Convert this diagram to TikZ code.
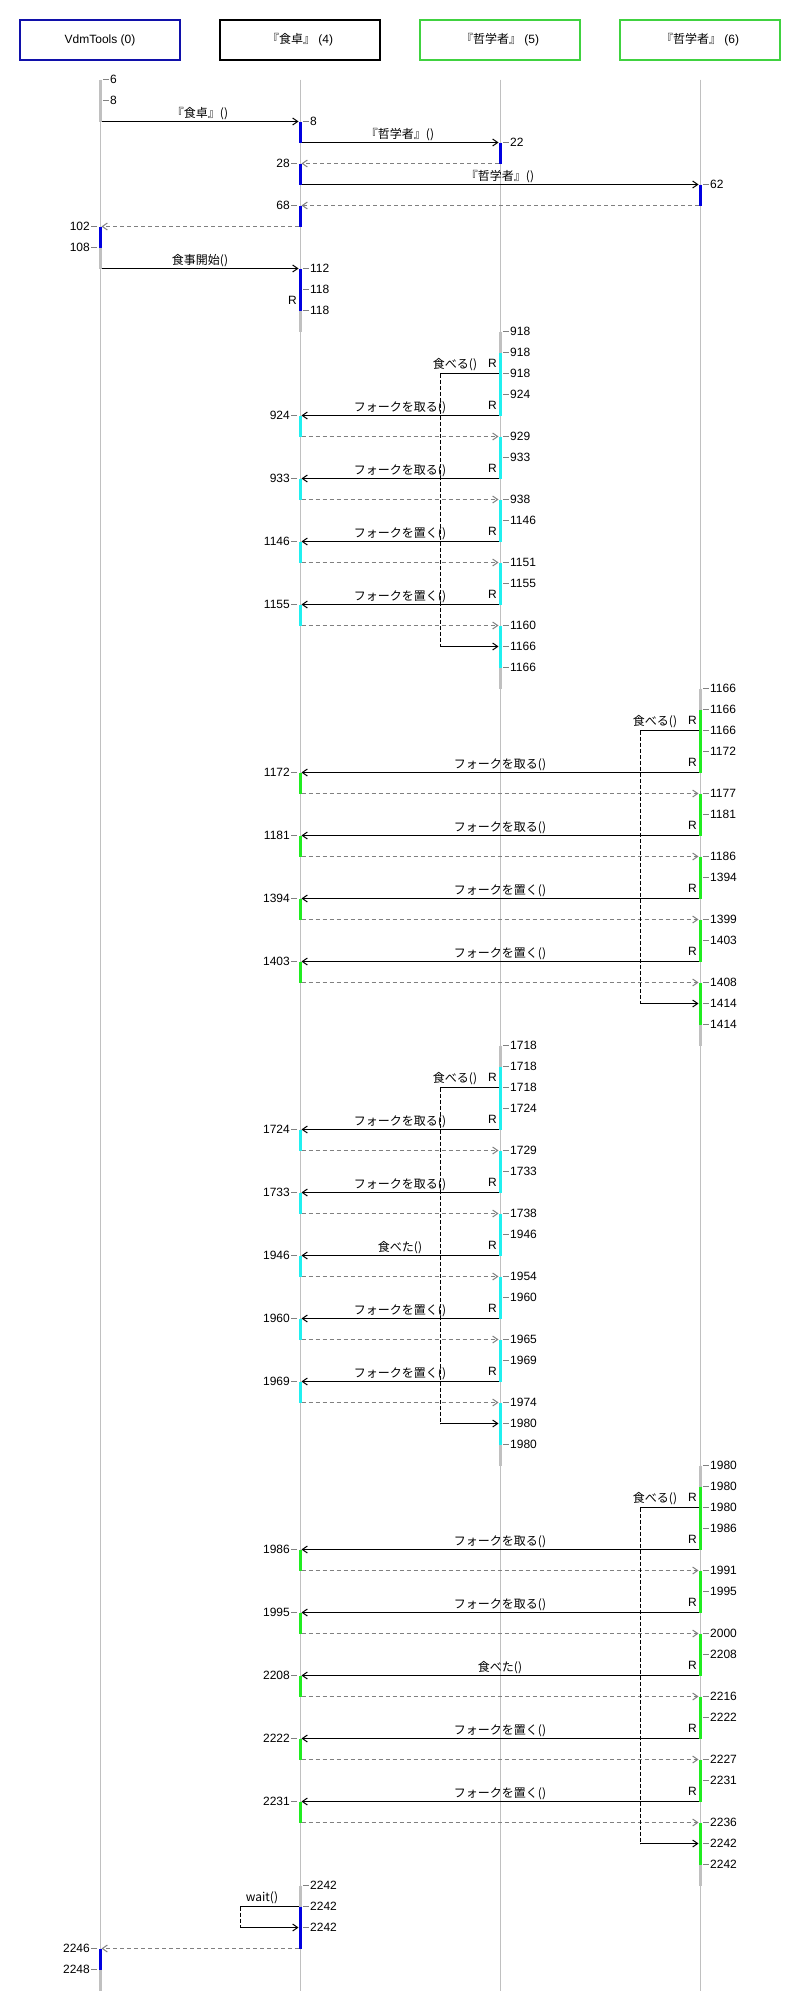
\documentclass[tikz,border=0pt]{standalone}
\usepackage{fontspec}
\setmainfont{Liberation Sans}
\newfontfamily\jp{Noto Sans CJK JP}
\usetikzlibrary{arrows.meta, calc}
\definecolor{vdmblue}{RGB}{16,16,170}
\definecolor{barblue}{RGB}{0,0,224}
\definecolor{objgreen}{RGB}{64,210,64}
\definecolor{bargreen}{RGB}{32,236,32}
\definecolor{barcyan}{RGB}{32,240,240}
\definecolor{lifegray}{RGB}{192,192,192}
\definecolor{retgray}{RGB}{128,128,128}

\begin{document}
\begin{tikzpicture}[x=1pt, y=-1pt, font=\fontsize{12}{14}\selectfont,
        declare function={ry(\r)=79.5+21*\r;}]
    \tikzstyle{objbox} = [rectangle, draw, line width=2pt, fill=white, minimum width=160pt, minimum height=40pt, inner sep=0pt]
    \tikzstyle{life} = [draw=lifegray, line width=1pt]
    \tikzstyle{bar} = [line width=3pt]
    \tikzstyle{call} = [draw=black, line width=1pt, -{Straight Barb[length=5pt,width=7pt]}, shorten >=1.5pt, shorten <=1.5pt]
    \tikzstyle{back} = [draw=black, line width=1pt, -{Straight Barb[length=5pt,width=7pt]}, shorten >=1.5pt]
    \tikzstyle{ret} = [draw=retgray, line width=1pt, dash pattern=on 4pt off 3pt, -{Straight Barb[length=5pt,width=7pt]}, shorten >=1.5pt, shorten <=1.5pt]
    \tikzstyle{selfline} = [draw=black, line width=1pt, shorten <=1.5pt]
    \tikzstyle{selfdash} = [draw=black, line width=1pt, dash pattern=on 4pt off 2pt]
    \tikzstyle{msg} = [midway, above, inner sep=1pt, font=\fontsize{12}{14}\selectfont\jp]
    \tikzstyle{selflbl} = [anchor=south, inner sep=1pt, font=\fontsize{12}{14}\selectfont\jp]
    \tikzstyle{tick} = [draw=retgray, line width=1pt]
    \tikzstyle{rnum} = [anchor=west, inner sep=0pt]
    \tikzstyle{lnum} = [anchor=east, inner sep=0pt]
    \tikzstyle{rmark} = [anchor=east, inner sep=0pt]

    \useasboundingbox (0,0) rectangle (800,2010);

    % objects
    \node[objbox, draw=vdmblue] (vdm) at (100,40) {VdmTools (0)};
    \node[objbox, draw=black] (tbl) at (300,40) {{\jp 『食卓』} (4)};
    \node[objbox, draw=objgreen] (ph5) at (500,40) {{\jp 『哲学者』} (5)};
    \node[objbox, draw=objgreen] (ph6) at (700,40) {{\jp 『哲学者』} (6)};

    % one point per row on every lifeline
    \foreach \k in {0,...,91}{
        \coordinate (vdm-\k) at (100,{ry(\k)});
        \coordinate (tbl-\k) at (300,{ry(\k)});
        \coordinate (ph5-\k) at (500,{ry(\k)});
        \coordinate (ph6-\k) at (700,{ry(\k)});
    }

    % lifelines
    \foreach \who in {vdm,tbl,ph5,ph6}
        \draw[life] (\who-0) -- (\who-91);

    % activation bars
    \foreach \who/\a/\b/\col in {vdm/0/2/lifegray, vdm/7/8/barblue, vdm/8/9/lifegray, vdm/89/90/barblue, vdm/90/91/lifegray,
        tbl/2/3/barblue, tbl/4/5/barblue, tbl/6/7/barblue, tbl/9/11/barblue, tbl/11/12/lifegray,
        tbl/16/17/barcyan, tbl/19/20/barcyan, tbl/22/23/barcyan, tbl/25/26/barcyan,
        tbl/33/34/bargreen, tbl/36/37/bargreen, tbl/39/40/bargreen, tbl/42/43/bargreen,
        tbl/50/51/barcyan, tbl/53/54/barcyan, tbl/56/57/barcyan, tbl/59/60/barcyan, tbl/62/63/barcyan,
        tbl/70/71/bargreen, tbl/73/74/bargreen, tbl/76/77/bargreen, tbl/79/80/bargreen, tbl/82/83/bargreen,
        tbl/86/87/lifegray, tbl/87/89/barblue,
        ph5/3/4/barblue, ph5/12/13/lifegray, ph5/13/16/barcyan, ph5/17/19/barcyan, ph5/20/22/barcyan,
        ph5/23/25/barcyan, ph5/26/28/barcyan, ph5/28/29/lifegray,
        ph5/46/47/lifegray, ph5/47/50/barcyan, ph5/51/53/barcyan, ph5/54/56/barcyan, ph5/57/59/barcyan,
        ph5/60/62/barcyan, ph5/63/65/barcyan, ph5/65/66/lifegray,
        ph6/5/6/barblue, ph6/29/30/lifegray, ph6/30/33/bargreen, ph6/34/36/bargreen, ph6/37/39/bargreen,
        ph6/40/42/bargreen, ph6/43/45/bargreen, ph6/45/46/lifegray,
        ph6/66/67/lifegray, ph6/67/70/bargreen, ph6/71/73/bargreen, ph6/74/76/bargreen, ph6/77/79/bargreen,
        ph6/80/82/bargreen, ph6/83/85/bargreen, ph6/85/86/lifegray}
        \draw[bar, draw=\col] (\who-\a) -- (\who-\b);

    % calls
    \foreach \from/\to/\k/\txt in {vdm/tbl/2/『食卓』(), tbl/ph5/3/『哲学者』(), tbl/ph6/5/『哲学者』(), vdm/tbl/9/食事開始(),
        ph5/tbl/16/フォークを取る(), ph5/tbl/19/フォークを取る(), ph5/tbl/22/フォークを置く(), ph5/tbl/25/フォークを置く(),
        ph6/tbl/33/フォークを取る(), ph6/tbl/36/フォークを取る(), ph6/tbl/39/フォークを置く(), ph6/tbl/42/フォークを置く(),
        ph5/tbl/50/フォークを取る(), ph5/tbl/53/フォークを取る(), ph5/tbl/56/食べた(), ph5/tbl/59/フォークを置く(), ph5/tbl/62/フォークを置く(),
        ph6/tbl/70/フォークを取る(), ph6/tbl/73/フォークを取る(), ph6/tbl/76/食べた(), ph6/tbl/79/フォークを置く(), ph6/tbl/82/フォークを置く()}
        \draw[call] (\from-\k) -- (\to-\k) node[msg] (m-\k) {\txt};

    % returns
    \foreach \from/\to/\k in {ph5/tbl/4, ph6/tbl/6, tbl/vdm/7,
        tbl/ph5/17, tbl/ph5/20, tbl/ph5/23, tbl/ph5/26,
        tbl/ph6/34, tbl/ph6/37, tbl/ph6/40, tbl/ph6/43,
        tbl/ph5/51, tbl/ph5/54, tbl/ph5/57, tbl/ph5/60, tbl/ph5/63,
        tbl/ph6/71, tbl/ph6/74, tbl/ph6/77, tbl/ph6/80, tbl/ph6/83, tbl/vdm/89}
        \draw[ret] (\from-\k) -- (\to-\k);

    % self calls
    \foreach \who/\a/\b/\dx/\txt in {ph5/14/27/45/食べる(), ph6/31/44/45/食べる(), ph5/48/64/45/食べる(),
        ph6/68/84/45/食べる(), tbl/87/88/38/wait()}{
        \coordinate (turn-\who-\a) at ($(\who-\a)+(-60,0)$);
        \coordinate (back-\who-\a) at ($(\who-\b)+(-60,0)$);
        \draw[selfline] (\who-\a) -- (turn-\who-\a);
        \draw[selfdash] (turn-\who-\a) -- (back-\who-\a);
        \draw[back] (back-\who-\a) -- (\who-\b);
        \node[selflbl] (s-\who-\a) at ($(\who-\a)+(-\dx,-1)$) {\txt};
    }

    % times on the right
    \foreach \who/\k/\txt in {vdm/0/6, vdm/1/8, tbl/2/8, ph5/3/22, ph6/5/62, tbl/9/112, tbl/10/118, tbl/11/118,
        ph5/12/918, ph5/13/918, ph5/14/918, ph5/15/924, ph5/17/929, ph5/18/933, ph5/20/938, ph5/21/1146,
        ph5/23/1151, ph5/24/1155, ph5/26/1160, ph5/27/1166, ph5/28/1166,
        ph6/29/1166, ph6/30/1166, ph6/31/1166, ph6/32/1172, ph6/34/1177, ph6/35/1181, ph6/37/1186, ph6/38/1394,
        ph6/40/1399, ph6/41/1403, ph6/43/1408, ph6/44/1414, ph6/45/1414,
        ph5/46/1718, ph5/47/1718, ph5/48/1718, ph5/49/1724, ph5/51/1729, ph5/52/1733, ph5/54/1738, ph5/55/1946,
        ph5/57/1954, ph5/58/1960, ph5/60/1965, ph5/61/1969, ph5/63/1974, ph5/64/1980, ph5/65/1980,
        ph6/66/1980, ph6/67/1980, ph6/68/1980, ph6/69/1986, ph6/71/1991, ph6/72/1995, ph6/74/2000, ph6/75/2208,
        ph6/77/2216, ph6/78/2222, ph6/80/2227, ph6/81/2231, ph6/83/2236, ph6/84/2242, ph6/85/2242,
        tbl/86/2242, tbl/87/2242, tbl/88/2242}{
        \draw[tick] ($(\who-\k)+(3,0)$) -- ++(6,0);
        \node[rnum] (n-\who-\k) at ($(\who-\k)+(10,0)$) {\txt};
    }

    % times on the left
    \foreach \who/\k/\txt in {tbl/4/28, tbl/6/68, vdm/7/102, vdm/8/108,
        tbl/16/924, tbl/19/933, tbl/22/1146, tbl/25/1155,
        tbl/33/1172, tbl/36/1181, tbl/39/1394, tbl/42/1403,
        tbl/50/1724, tbl/53/1733, tbl/56/1946, tbl/59/1960, tbl/62/1969,
        tbl/70/1986, tbl/73/1995, tbl/76/2208, tbl/79/2222, tbl/82/2231,
        vdm/89/2246, vdm/90/2248}{
        \draw[tick] ($(\who-\k)+(-3,0)$) -- ++(-6,0);
        \node[lnum] (n-\who-\k) at ($(\who-\k)+(-10,0)$) {\txt};
    }

    % R marks
    \foreach \who/\k in {tbl/11, ph5/14, ph5/16, ph5/19, ph5/22, ph5/25, ph5/48, ph5/50, ph5/53, ph5/56, ph5/59, ph5/62,
        ph6/31, ph6/33, ph6/36, ph6/39, ph6/42, ph6/68, ph6/70, ph6/73, ph6/76, ph6/79, ph6/82}
        \node[rmark] (r-\who-\k) at ($(\who-\k)+(-3,-10)$) {R};

\end{tikzpicture}
\end{document}
